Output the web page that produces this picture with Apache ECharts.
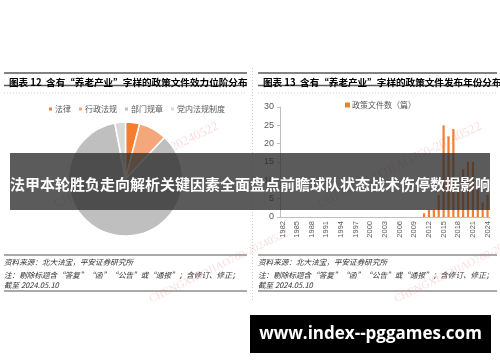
<!DOCTYPE html>
<html>
<head>
<meta charset="utf-8">
<script src="https://cdn.jsdelivr.net/npm/echarts@6/dist/echarts.min.js"></script>
<style>
  html, body { margin: 0; padding: 0; background: #fff; }
  #chart { width: 500px; height: 362px; }
</style>
</head>
<body>
<div id="chart"></div>
<script>
// 图表12：效力位阶
const levelNames = ['法律', '行政法规', '部门规章', '党内法规制度']
const levelValues = [4, 8, 85, 3]
const levelColors = ['#F47D30', '#F4A77B', '#BFBFBF', '#D9D9D9']

// 图表13：发布年份
const years = []
for (let y = 1982; y <= 2024; y++) years.push(String(y))
const docCounts = [
  0, 0, 0, 0, 0, 0, 0, 0, 0, 0,   // 1982-1991
  0, 0, 0, 0, 0, 0, 0, 0, 0, 0,   // 1992-2001
  0, 0, 0, 0, 0, 0, 0, 0, 0, 1,   // 2002-2011
  2, 2, 6, 25, 22, 24, 8, 13, 15, 15, // 2012-2021
  8, 4, 6                         // 2022-2024
]
const yTicks = [0, 5, 10, 15, 20, 25, 30]

const chart = echarts.init(document.getElementById('chart'))

const cjk = '"Noto Sans CJK SC", sans-serif'
const footLeft = [
  '资料来源：北大法宝，平安证券研究所',
  '注：剔除标题含“答复”“函”“公告”或“通报”；含修订、修正；',
  '截至 2024.05.10'
]

const panelDecor = (x0, x1) => [
  { type: 'line', shape: { x1: x0, y1: 73, x2: x1, y2: 73 }, style: { stroke: '#595959', lineWidth: 1.5 } },
  { type: 'line', shape: { x1: x0, y1: 85.5, x2: x1, y2: 85.5 }, style: { stroke: '#595959', lineWidth: 1.5 } },
  { type: 'line', shape: { x1: x0, y1: 93, x2: x1, y2: 93 }, style: { stroke: '#D0D0D0', lineWidth: 1, lineDash: [1, 2] } },
  { type: 'line', shape: { x1: x0, y1: 255, x2: x1, y2: 255 }, style: { stroke: '#8C8C8C', lineWidth: 1.5 } },
  { type: 'line', shape: { x1: x0, y1: 291, x2: x1, y2: 291 }, style: { stroke: '#8C8C8C', lineWidth: 1.5 } },
  { type: 'text', x: x0, y: 262, style: { text: footLeft[0], font: 'italic 7.6px ' + cjk, fill: '#333', textVerticalAlign: 'middle' } },
  { type: 'text', x: x0, y: 275, style: { text: footLeft[1], font: 'italic 7.6px ' + cjk, fill: '#333', textVerticalAlign: 'middle' } },
  { type: 'text', x: x0, y: 285.5, style: { text: footLeft[2], font: 'italic 7.6px ' + cjk, fill: '#333', textVerticalAlign: 'middle' } }
]

const watermark = (x, y, size) => ({
  type: 'text', x: x, y: y, rotation: Math.PI * 26 / 180,
  style: { text: 'CHENGXIAOJIAO760-20240522', font: size + 'px "Liberation Serif", serif', fill: 'rgba(235,120,120,0.25)', textVerticalAlign: 'middle' }
})

const option = {
  animation: false,
  title: [
    { text: '图表 12  含有“养老产业”字样的政策文件效力位阶分布', left: 4, top: 73,
      textStyle: { fontSize: 9.6, fontWeight: 'bold', color: '#000', fontFamily: cjk } },
    { text: '图表 13  含有“养老产业”字样的政策文件发布年份分布', left: 258, top: 73,
      textStyle: { fontSize: 9.6, fontWeight: 'bold', color: '#000', fontFamily: cjk } }
  ],
  legend: [
    { data: levelNames, left: 42, top: 100, itemWidth: 5, itemHeight: 5, itemGap: 6, icon: 'rect',
      textStyle: { fontSize: 8, color: '#595959', fontFamily: cjk, padding: [0, 0, 0, -3] } },
    { data: ['政策文件数（篇）'], left: 340, top: 96, itemWidth: 5, itemHeight: 5, icon: 'rect',
      textStyle: { fontSize: 8, color: '#595959', fontFamily: cjk, padding: [0, 0, 0, -3] } }
  ],
  grid: { left: 280, right: 10, top: 107, bottom: 145 },
  xAxis: {
    type: 'category', data: years,
    axisLine: { lineStyle: { color: '#BFBFBF' } },
    axisTick: { inside: true, interval: 0, length: 3, lineStyle: { color: '#BFBFBF' } },
    axisLabel: { rotate: 90, interval: 2, fontSize: 7.5, color: '#595959', margin: 4, fontFamily: 'Liberation Sans' }
  },
  yAxis: {
    type: 'value', min: 0, max: 30, interval: 5,
    axisLine: { show: true, lineStyle: { color: '#BFBFBF' } },
    axisTick: { show: true, length: 3, lineStyle: { color: '#BFBFBF' } },
    axisLabel: { fontSize: 9, color: '#595959', margin: 6, fontFamily: 'Liberation Sans' },
    splitLine: { show: false }
  },
  series: [
    {
      name: '效力位阶', type: 'pie', center: [125.5, 179], radius: 57,
      startAngle: 90, clockwise: true, label: { show: false }, labelLine: { show: false },
      itemStyle: { borderColor: '#fff', borderWidth: 1.5 },
      data: levelNames.map((n, i) => ({ name: n, value: levelValues[i], itemStyle: { color: levelColors[i] } }))
    },
    {
      name: '政策文件数（篇）', type: 'bar', data: docCounts, barWidth: 2.2,
      itemStyle: { color: '#F47D30' }
    }
  ],
  graphic: [
    { type: 'line', shape: { x1: 252.5, y1: 68, x2: 252.5, y2: 300 }, style: { stroke: '#D0D0D0', lineWidth: 1, lineDash: [1, 2] } },
    ...panelDecor(4, 247),
    ...panelDecor(258, 497),
    watermark(55, 205, 13),
    watermark(318, 205, 13),
    watermark(150, 300, 11),
    watermark(395, 300, 11),
    // 横幅
    { type: 'rect', shape: { x: 10, y: 153, width: 480, height: 57 }, style: { fill: 'rgba(45,45,45,0.78)' }, z: 100 },
    { type: 'text', x: 250, y: 184, z: 101,
      style: { text: '法甲本轮胜负走向解析关键因素全面盘点前瞻球队状态战术伤停数据影响', font: 'bold 15px ' + cjk, fill: '#fff', textAlign: 'center', textVerticalAlign: 'middle' } },
    { type: 'rect', shape: { x: 250, y: 315, width: 241, height: 38 }, style: { fill: '#000' }, z: 100 },
    { type: 'text', x: 370.5, y: 334, z: 101,
      style: { text: 'www.index--pggames.com', font: 'bold 17px "Open Sans", sans-serif', fill: '#fff', textAlign: 'center', textVerticalAlign: 'middle' } }
  ]
}

chart.setOption(option)
</script>
</body>
</html>
